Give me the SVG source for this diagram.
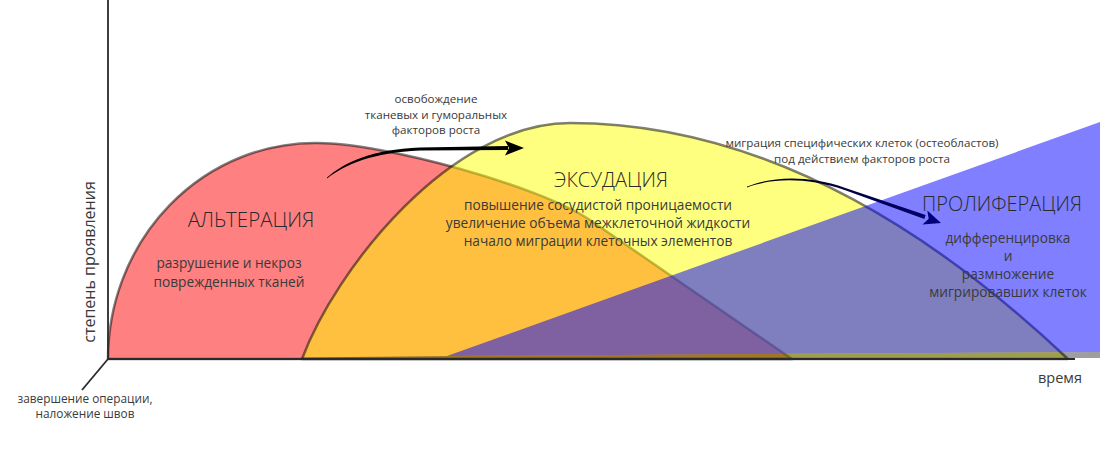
<svg xmlns="http://www.w3.org/2000/svg" width="1100" height="473" viewBox="0 0 1100 473">
<defs>
<style>
.t{font-family:"Open Sans","Noto Sans","DejaVu Sans",sans-serif;fill:#3a3a3a;text-anchor:middle}
.h{font-size:20px;font-weight:300;fill:#2a2a2a}
.b{font-size:13.7px}
.s{font-size:11.6px}
.shape{stroke:#000;stroke-opacity:0.5;stroke-width:2.5;stroke-linejoin:round}
.axis{stroke:#2a2a2a;stroke-width:1.8;fill:none}
</style>
<linearGradient id="g2" x1="747" y1="0" x2="941" y2="0" gradientUnits="userSpaceOnUse">
<stop offset="0" stop-color="#000"/>
<stop offset="1" stop-color="#00007a"/>
</linearGradient>
</defs>
<rect width="1100" height="473" fill="#fff"/>
<g id="alteration">
<path class="shape" fill="#ff8080" d="M108,359 A207,216 0 0 1 318,143 C383,143 540,186 590,220 L792,359 Z"/>
</g>
<g id="exudation">
<path class="shape" fill="#ffff00" fill-opacity="0.5" d="M302,359 C335,270 450,123 570,123 C736,123 902,202 1068,359 Z"/>
</g>
<g id="proliferation">
<path fill="#0000ff" fill-opacity="0.5" d="M447,356 L1100,122 L1100,352 Z"/>
</g>
<g id="baseline-band">
<path fill="#000" fill-opacity="0.38" d="M302,357.5 L447,356 L1100,352 L1100,358 L302,358.5 Z"/>
</g>
<g id="axes">
<path class="axis" d="M108,0 L108,359 L1075,359"/>
<path class="axis" d="M108,359 L82,390"/>
<text class="t" style="font-size:16px" transform="translate(95,262) rotate(-90)">степень проявления</text>
<text class="t" style="font-size:11.8px"><tspan x="85" y="403">завершение операции,</tspan><tspan x="85" y="418">наложение швов</tspan></text>
<text class="t" style="font-size:14.5px" x="1060" y="383">время</text>
</g>
<g id="alteration-labels">
<text class="t h" style="font-size:20.5px" x="251" y="227">АЛЬТЕРАЦИЯ</text>
<text class="t b"><tspan x="229" y="268">разрушение и некроз</tspan><tspan x="229" y="287">поврежденных тканей</tspan></text>
</g>
<g id="exudation-labels">
<text class="t h" x="611" y="187">ЭКСУДАЦИЯ</text>
<text class="t b"><tspan x="598" y="210">повышение сосудистой проницаемости</tspan><tspan x="598" y="228">увеличение объема межклеточной жидкости</tspan><tspan x="598" y="246">начало миграции клеточных элементов</tspan></text>
</g>
<g id="proliferation-labels">
<text class="t h" x="1002" y="211">ПРОЛИФЕРАЦИЯ</text>
<text class="t b"><tspan x="1008" y="243">дифференцировка</tspan><tspan x="1008" y="261">и</tspan><tspan x="1008" y="279">размножение</tspan><tspan x="1008" y="297">мигрировавших клеток</tspan></text>
</g>
<g id="connectors">
<g id="arrow-growth-factors">
<path fill="#000" d="M327,177.5 C345,162 372,149.5 420,147.5 L508,146 L508,150 L420,150.5 C373,152.5 346,164 327,178.5 Z"/>
<polygon fill="#000" points="505,140.5 524,148 505,155.5 509,148"/>
<text class="t s"><tspan x="436" y="103">освобождение</tspan><tspan x="436" y="119">тканевых и гуморальных</tspan><tspan x="436" y="134">факторов роста</tspan></text>
</g>
<g id="arrow-migration">
<path fill="url(#g2)" d="M747,186.6 C770,177.3 805,174 845.4,187.9 L925.6,215.1 L924.4,218.9 L844.6,190.1 C805,176.2 770,178.8 747,187.4 Z"/>
<polygon fill="#00007a" points="927.3,210.4 941,223 922.5,224.6 928.7,218.8"/>
<text class="t s"><tspan x="862" y="147">миграция специфических клеток (остеобластов)</tspan><tspan x="862" y="163">под действием факторов роста</tspan></text>
</g>
</g>
</svg>
